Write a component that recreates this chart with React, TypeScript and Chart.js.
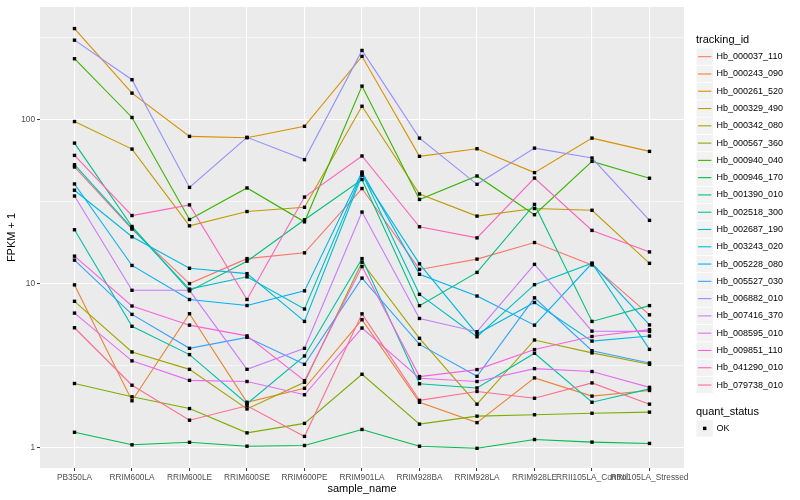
import { useEffect, useRef } from "react";
import { Chart, registerables } from "chart.js";

Chart.register(...registerables);

const categories = [
  "PB350LA", "RRIM600LA", "RRIM600LE", "RRIM600SE", "RRIM600PE", "RRIM901LA",
  "RRIM928BA", "RRIM928LA", "RRIM928LE", "RRII105LA_Control", "RRII105LA_Stressed",
];

const trackingIds = [
  "Hb_000037_110", "Hb_000243_090", "Hb_000261_520", "Hb_000329_490", "Hb_000342_080",
  "Hb_000567_360", "Hb_000940_040", "Hb_000946_170", "Hb_001390_010", "Hb_002518_300",
  "Hb_002687_190", "Hb_003243_020", "Hb_005228_080", "Hb_005527_030", "Hb_006882_010",
  "Hb_007416_370", "Hb_008595_010", "Hb_009851_110", "Hb_041290_010", "Hb_079738_010",
];

const seriesColors = [
  "#F8766D", "#EA8331", "#D89000", "#C09B00", "#A3A500", "#7CAE00", "#39B600",
  "#00BB4E", "#00BF7D", "#00C1A3", "#00BFC4", "#00BAE0", "#00B0F6", "#35A2FF",
  "#9590FF", "#C77CFF", "#E76BF3", "#FA62DB", "#FF62BC", "#FF6C91",
];

// FPKM + 1 values, one array per tracking_id, in category order
const hb000037_110 = [51.4, 21.5, 10.0, 14.2, 15.4, 38.0, 12.2, 14.1, 17.8, 13.0, 6.45];
const hb000243_090 = [9.82, 1.93, 6.55, 1.89, 2.3, 6.02, 1.89, 1.42, 2.66, 2.06, 2.23];
const hb000261_520 = [359, 145, 79, 77.5, 91, 243, 59.7, 66.4, 47.5, 77.1, 64];
const hb000329_490 = [97.3, 66.1, 22.5, 27.5, 29.2, 120.6, 35.2, 25.8, 28.7, 28.0, 13.3];
const hb000342_080 = [7.8, 3.83, 3.0, 1.72, 2.5, 13.5, 4.64, 1.84, 4.53, 3.78, 3.22];
const hb000567_360 = [2.46, 2.04, 1.73, 1.23, 1.405, 2.8, 1.39, 1.555, 1.586, 1.62, 1.645];
const hb000940_040 = [235, 103, 24.6, 38.3, 23.8, 160, 32.6, 45.3, 26.3, 55.6, 43.9];
const hb000946_170 = [1.24, 1.04, 1.077, 1.02, 1.03, 1.29, 1.02, 0.99, 1.12, 1.08, 1.06];
const hb001390_010 = [71.9, 22.3, 9.03, 13.7, 24.5, 43.1, 7.34, 11.7, 30.4, 5.88, 7.34];
const hb002518_300 = [21.3, 5.49, 3.69, 1.85, 3.62, 14.2, 2.45, 2.31, 3.76, 1.89, 2.28];
const hb002687_190 = [53.1, 21.8, 9.25, 11.0, 7.0, 47.0, 8.6, 4.74, 9.85, 13.3, 3.97];
const hb003243_020 = [37.1, 19.3, 12.4, 11.5, 5.88, 45.8, 13.2, 4.93, 7.67, 4.46, 4.79];
const hb005228_080 = [40.5, 12.9, 8.0, 7.35, 9.03, 47.9, 11.4, 8.4, 5.58, 13.3, 5.6];
const hb005527_030 = [13.9, 6.49, 4.03, 4.7, 3.22, 10.8, 4.26, 2.72, 8.19, 3.9, 3.28];
const hb006882_010 = [305, 175, 38.6, 78, 57, 264, 77.1, 40.3, 67, 58.3, 24.3];
const hb007416_370 = [34.2, 9.1, 9.1, 3.0, 4.03, 27.3, 6.13, 5.09, 13.1, 5.13, 5.11];
const hb008595_010 = [6.61, 3.38, 2.57, 2.53, 2.1, 5.36, 2.65, 2.53, 3.03, 2.91, 2.33];
const hb009851_110 = [14.7, 7.3, 5.58, 4.8, 2.56, 12.7, 2.71, 2.99, 3.96, 4.76, 5.24];
const hb041290_010 = [60.5, 26.0, 30.2, 8.0, 33.7, 60, 22.2, 19.0, 44, 21.1, 15.6];
const hb079738_010 = [5.38, 2.4, 1.47, 1.8, 1.17, 6.54, 1.94, 2.2, 2.0, 2.48, 1.84];

const seriesValues = [
  hb000037_110, hb000243_090, hb000261_520, hb000329_490, hb000342_080,
  hb000567_360, hb000940_040, hb000946_170, hb001390_010, hb002518_300,
  hb002687_190, hb003243_020, hb005228_080, hb005527_030, hb006882_010,
  hb007416_370, hb008595_010, hb009851_110, hb041290_010, hb079738_010,
];

const yMajorTicks = [1, 10, 100];
const yMinorTicks = [3.1623, 31.623, 316.23];
const quantStatus = ["OK"];

const FONT = '"Liberation Sans", Arial, Helvetica, sans-serif';

const isMajor = (v: number | undefined) =>
  v !== undefined && yMajorTicks.some((m) => Math.abs(m - v) < 1e-6);

const panelBg = {
  id: "panelBg",
  beforeDraw(chart: any) {
    const { ctx, chartArea: a } = chart;
    ctx.save();
    ctx.fillStyle = "#FFFFFF";
    ctx.fillRect(0, 0, chart.width, chart.height);
    ctx.fillStyle = "#EBEBEB";
    ctx.fillRect(a.left, a.top, a.right - a.left, a.bottom - a.top);
    ctx.restore();
  },
};

const ggLegend = {
  id: "ggLegend",
  afterDraw(chart: any) {
    const { ctx, chartArea: a } = chart;
    ctx.save();
    // axis titles
    ctx.fillStyle = "#000000";
    ctx.font = `11px ${FONT}`;
    ctx.textAlign = "center";
    ctx.textBaseline = "middle";
    ctx.fillText("sample_name", (a.left + a.right) / 2, 489);
    ctx.save();
    ctx.translate(12, (a.top + a.bottom) / 2);
    ctx.rotate(-Math.PI / 2);
    ctx.fillText("FPKM + 1", 0, 0);
    ctx.restore();

    // legend: tracking_id
    const lx = 696.5;
    ctx.textAlign = "left";
    ctx.font = `11px ${FONT}`;
    ctx.fillText("tracking_id", 696, 40);
    const lines = chart.data.datasets.filter((d: any) => d.legendGroup === "tracking");
    lines.forEach((d: any, i: number) => {
      const yc = 56.7 + i * 17.28;
      ctx.fillStyle = "#F2F2F2";
      ctx.fillRect(lx, yc - 8.2, 16.4, 16.4);
      ctx.strokeStyle = d.borderColor;
      ctx.lineWidth = 1.1;
      ctx.beginPath();
      ctx.moveTo(lx + 1.5, yc);
      ctx.lineTo(lx + 14.9, yc);
      ctx.stroke();
      ctx.fillStyle = "#000000";
      ctx.font = `9px ${FONT}`;
      ctx.fillText(d.label, 716.5, yc);
    });

    // legend: quant_status
    ctx.font = `11px ${FONT}`;
    ctx.fillStyle = "#000000";
    ctx.fillText("quant_status", 696, 411.7);
    quantStatus.forEach((q, i) => {
      const yc = 428.4 + i * 17.28;
      ctx.fillStyle = "#F2F2F2";
      ctx.fillRect(lx, yc - 8.2, 16.4, 16.4);
      ctx.fillStyle = "#000000";
      ctx.fillRect(lx + 8.2 - 1.7, yc - 1.7, 3.4, 3.4);
      ctx.font = `9px ${FONT}`;
      ctx.fillText(q, 716.5, yc);
    });
    ctx.restore();
  },
};

export default function App() {
  const canvasRef = useRef<HTMLCanvasElement | null>(null);

  useEffect(() => {
    if (!canvasRef.current) return;
    const n = trackingIds.length;
    const lineDatasets = trackingIds.map((id, i) => ({
      type: "line" as const,
      label: id,
      legendGroup: "tracking",
      data: seriesValues[i].map((v, j) => ({ x: j, y: v })),
      borderColor: seriesColors[i],
      backgroundColor: seriesColors[i],
      borderWidth: 1.1,
      pointRadius: 0,
      fill: false,
      tension: 0,
      order: n - i,
    }));
    const pointDataset = {
      type: "line" as const,
      label: quantStatus[0],
      legendGroup: "quant",
      data: seriesValues.flatMap((vals) => vals.map((v, j) => ({ x: j, y: v }))),
      showLine: false,
      pointStyle: "rect",
      pointRadius: 2.4,
      pointBackgroundColor: "#000000",
      pointBorderWidth: 0,
      borderColor: "#000000",
      order: 0,
    };

    const chart = new Chart(canvasRef.current, {
      type: "line",
      data: { datasets: [...lineDatasets, pointDataset] as any },
      options: {
        animation: false,
        responsive: false,
        events: [],
        layout: { padding: { top: 5, left: 0, right: 116, bottom: 0 } },
        plugins: {
          legend: { display: false },
          tooltip: { enabled: false },
          title: { display: false },
        },
        scales: {
          x: {
            type: "linear",
            min: -0.6,
            max: 10.6,
            afterBuildTicks: (s: any) => {
              s.ticks = categories.map((_, i) => ({ value: i }));
            },
            afterFit: (s: any) => {
              s.height = 32;
            },
            ticks: {
              callback: (v: any) => categories[Math.round(Number(v))] ?? "",
              autoSkip: false,
              maxRotation: 0,
              minRotation: 0,
              color: "#4D4D4D",
              font: { family: FONT, size: 8.3 },
              padding: 2,
            },
            grid: {
              color: "#FFFFFF",
              lineWidth: 1.1,
              tickColor: "#333333",
              tickLength: 3,
              tickWidth: 1,
            },
            border: { display: false },
          },
          y: {
            type: "logarithmic",
            min: 0.751,
            max: 486,
            afterBuildTicks: (s: any) => {
              s.ticks = [...yMajorTicks, ...yMinorTicks]
                .sort((p, q) => p - q)
                .map((v) => ({ value: v }));
            },
            afterFit: (s: any) => {
              s.width = 40;
            },
            ticks: {
              callback: (v: any) => (isMajor(Number(v)) ? String(Math.round(Number(v))) : ""),
              autoSkip: false,
              color: "#4D4D4D",
              font: { family: FONT, size: 8.3 },
              padding: 2,
            },
            grid: {
              color: "#FFFFFF",
              lineWidth: (ctx: any) => (isMajor(ctx.tick?.value) ? 1.1 : 0.55),
              tickColor: (ctx: any) => (isMajor(ctx.tick?.value) ? "#333333" : "rgba(0,0,0,0)"),
              tickLength: 3,
              tickWidth: 1,
            },
            border: { display: false },
          },
        },
      } as any,
      plugins: [panelBg, ggLegend],
    });
    return () => chart.destroy();
  }, []);

  return (
    <div style={{ position: "absolute", left: 0, top: 0, width: 800, height: 500, background: "#FFFFFF" }}>
      <canvas ref={canvasRef} width={800} height={500} style={{ display: "block", width: 800, height: 500 }} />
    </div>
  );
}
